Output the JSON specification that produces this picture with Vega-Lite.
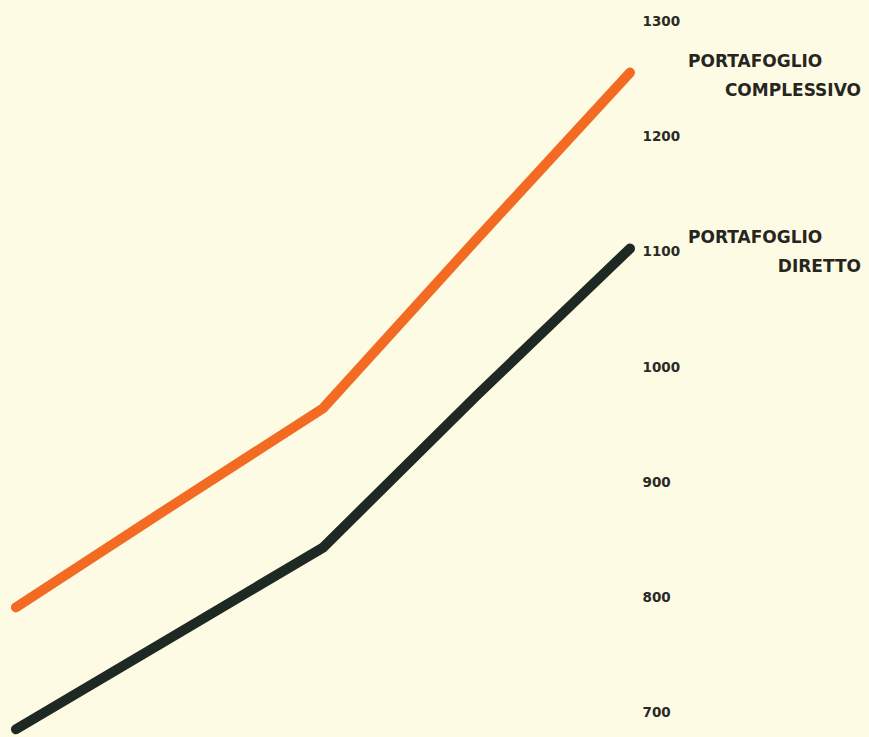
{
  "$schema": "https://vega.github.io/schema/vega-lite/v6.json",
  "width": 869,
  "height": 737,
  "padding": 0,
  "autosize": "none",
  "background": "#fdfbe3",
  "config": {"view": {"stroke": null}},
  "datasets": {
    "serie": [
      {"serie": "Portafoglio complessivo", "periodo": 1, "valore": 791},
      {"serie": "Portafoglio complessivo", "periodo": 2, "valore": 878},
      {"serie": "Portafoglio complessivo", "periodo": 3, "valore": 964},
      {"serie": "Portafoglio complessivo", "periodo": 4, "valore": 1111},
      {"serie": "Portafoglio complessivo", "periodo": 5, "valore": 1256},
      {"serie": "Portafoglio diretto", "periodo": 1, "valore": 685},
      {"serie": "Portafoglio diretto", "periodo": 2, "valore": 764},
      {"serie": "Portafoglio diretto", "periodo": 3, "valore": 843},
      {"serie": "Portafoglio diretto", "periodo": 4, "valore": 975},
      {"serie": "Portafoglio diretto", "periodo": 5, "valore": 1103}
    ],
    "etichette": [
      {"serie": "Portafoglio complessivo", "riga1": "PORTAFOGLIO", "riga2": "COMPLESSIVO"},
      {"serie": "Portafoglio diretto", "riga1": "PORTAFOGLIO", "riga2": "DIRETTO"}
    ]
  },
  "encoding": {
    "x": {"field": "periodo", "type": "quantitative", "scale": {"domain": [0.896, 6.557], "nice": false, "zero": false}, "axis": null},
    "y": {
      "field": "valore", "type": "quantitative",
      "scale": {"domain": [678.3, 1319.1], "nice": false, "zero": false},
      "axis": {
        "orient": "right", "offset": -237, "values": [700, 800, 900, 1000, 1100, 1200, 1300], "format": "d",
        "domain": false, "ticks": false, "grid": false, "labelPadding": 10, "title": null,
        "labelFont": "DejaVu Sans", "labelFontSize": 13.5, "labelFontWeight": 600, "labelColor": "#2a2a26"
      }
    }
  },
  "layer": [
    {
      "data": {"name": "serie"},
      "mark": {"type": "line", "strokeWidth": 10, "strokeCap": "round", "strokeJoin": "round"},
      "encoding": {
        "color": {"field": "serie", "type": "nominal", "scale": {"domain": ["Portafoglio complessivo", "Portafoglio diretto"], "range": ["#f36b22", "#1f2923"]}, "legend": null}
      }
    },
    {
      "data": {"name": "serie"},
      "transform": [
        {"filter": "datum.periodo == 5"},
        {"lookup": "serie", "from": {"data": {"name": "etichette"}, "key": "serie", "fields": ["riga1", "riga2"]}}
      ],
      "mark": {"type": "text", "align": "left", "baseline": "middle", "dx": 58, "dy": -11, "font": "DejaVu Sans", "fontSize": 17, "fontWeight": "bold", "color": "#26261f"},
      "encoding": {"text": {"field": "riga1"}}
    },
    {
      "data": {"name": "serie"},
      "transform": [
        {"filter": "datum.periodo == 5"},
        {"lookup": "serie", "from": {"data": {"name": "etichette"}, "key": "serie", "fields": ["riga1", "riga2"]}}
      ],
      "mark": {"type": "text", "align": "right", "baseline": "middle", "dx": 231, "dy": 18, "font": "DejaVu Sans", "fontSize": 17, "fontWeight": "bold", "color": "#26261f"},
      "encoding": {"text": {"field": "riga2"}}
    }
  ]
}
